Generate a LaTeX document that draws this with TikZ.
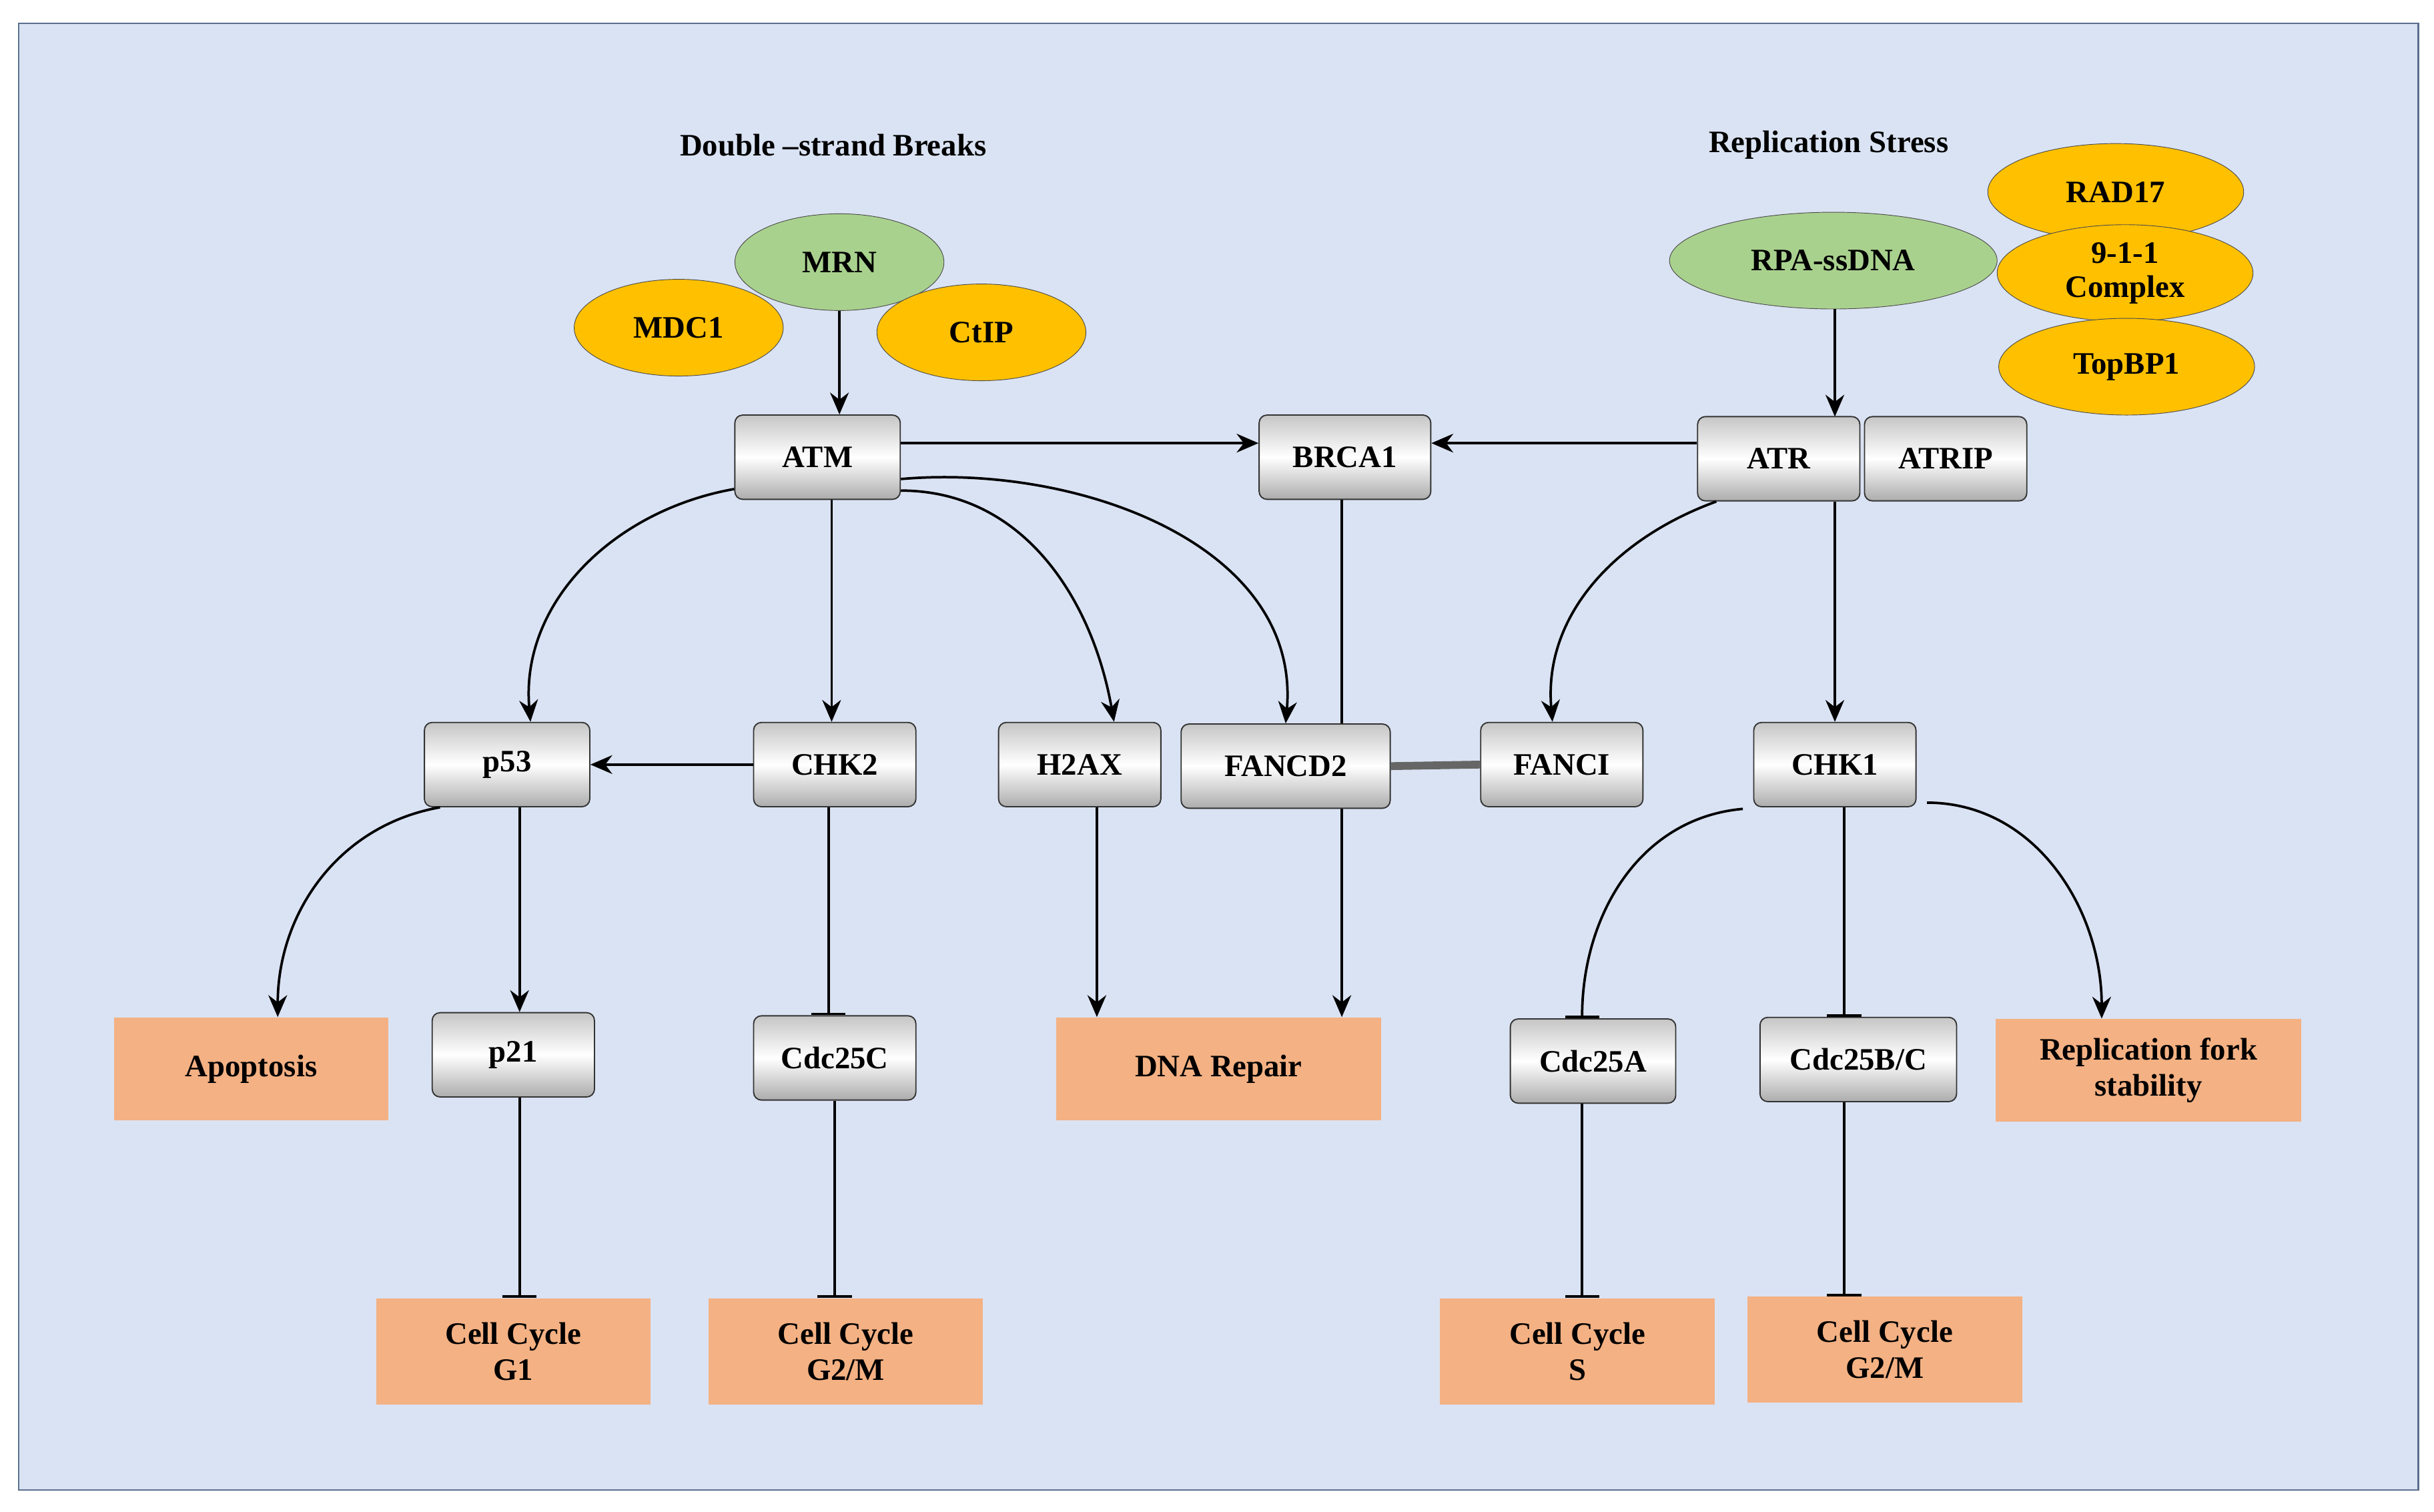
\documentclass[tikz,border=0pt]{standalone}
\usepackage{fontspec}
\setmainfont{Liberation Serif}
\usetikzlibrary{arrows.meta,shapes.geometric}
\definecolor{bg}{HTML}{DAE3F3}
\definecolor{frame}{HTML}{5B6F8F}
\definecolor{grn}{HTML}{A9D18E}
\definecolor{yel}{HTML}{FFC000}
\definecolor{org}{HTML}{F4B183}
\begin{document}
\begin{tikzpicture}[x=1pt,y=-1pt,
  font=\fontsize{20}{23}\selectfont\bfseries,
  box/.style={draw=black!80,line width=0.8pt,rounded corners=5pt,top color=gray!45,bottom color=gray!65,middle color=white,minimum height=54pt,inner sep=2pt},
  res/.style={fill=org,minimum height=66pt,minimum width=176pt,align=center,inner sep=2pt},
  grnE/.style={ellipse,draw=black!70,fill=grn,minimum width=134pt,minimum height=62pt,inner sep=0pt},
  yelE/.style={ellipse,draw=black!70,fill=yel,minimum width=134pt,minimum height=62pt,inner sep=0pt,align=center,font=\fontsize{20}{22}\selectfont\bfseries},
  act/.style={-{Stealth[length=14pt,width=12pt]},line width=1.6pt},
  inh/.style={-{Bar[width=22pt]},line width=1.6pt}]
\useasboundingbox (0,0) rectangle (1560,969);
\draw[frame,fill=bg,line width=1pt] (12,15) rectangle (1550,955);
\node (t1) at (534,93) {Double –strand Breaks};
\node (t2) at (1172,93) {Replication Stress};
% ellipses
\node[grnE] (mrn) at (538,168) {MRN};
\node[yelE] (mdc) at (435,210) {MDC1};
\node[yelE] (ctip) at (629,213) {CtIP};
\node[yelE,minimum width=164pt] (rad) at (1356,123) {RAD17};
\node[yelE,minimum width=164pt] (c911) at (1362,175) {9-1-1\\Complex};
\node[yelE,minimum width=164pt] (top) at (1363,235) {TopBP1};
\node[grnE,minimum width=210pt] (rpa) at (1175,167) {RPA-ssDNA};
% boxes
\node[box,minimum width=106pt] (atm) at (524,293) {ATM};
\node[box,minimum width=110pt] (brca) at (862,293) {BRCA1};
\node[box,minimum width=104pt] (atr) at (1140,294) {ATR};
\node[box,minimum width=104pt] (atrip) at (1247,294) {ATRIP};
\node[box,minimum width=106pt] (p53) at (325,490) {p53};
\node[box,minimum width=104pt] (chk2) at (535,490) {CHK2};
\node[box,minimum width=104pt] (h2ax) at (692,490) {H2AX};
\node[box,minimum width=104pt] (fi) at (1001,490) {FANCI};
\node[box,minimum width=104pt] (chk1) at (1176,490) {CHK1};
\node[box,minimum width=104pt] (p21) at (329,676) {p21};
\node[box,minimum width=104pt] (c25c) at (535,678) {Cdc25C};
\node[box,minimum width=106pt] (c25a) at (1021,680) {Cdc25A};
\node[box,minimum width=126pt] (c25b) at (1191,679) {Cdc25B/C};
% outcomes
\node[res] (apo) at (161,685) {Apoptosis};
\node[res,minimum width=208pt] (rep) at (781,685) {DNA Repair};
\node[res,minimum width=196pt] (fork) at (1377,686) {Replication fork\\stability};
\node[res,minimum height=68pt] (g1) at (329,866) {Cell Cycle\\G1};
\node[res,minimum height=68pt] (g2a) at (542,866) {Cell Cycle\\G2/M};
\node[res,minimum height=68pt] (s) at (1011,866) {Cell Cycle\\S};
\node[res,minimum height=68pt] (g2b) at (1208,865) {Cell Cycle\\G2/M};
% BRCA1 line behind FANCD2
\draw[act] (brca.south -| 860,0) -- (rep.north -| 860,0);
\node[box,minimum width=134pt] (fd2) at (824,491) {FANCD2};
\draw[line width=5pt,gray!80!black] (fd2.east) -- (fi.west);
% connectors
\draw[act] (mrn.south) -- (atm.north -| mrn.south);
\coordinate (atrin) at (1176,267);
\draw[act] (rpa.south -| atrin) -- (atrin);
\draw[act] (atm.east |- 0,284) -- (brca.west |- 0,284);
\draw[act] (atr.west |- 0,284) -- (brca.east |- 0,284);
\draw[act] ([yshift=7pt]atm.south west) to[out=190,in=95] (p53.north -| 340,0);
\draw[act] (atm.south -| 533,0) -- (chk2.north -| 533,0);
\draw[act] ([yshift=6pt]atm.south east) to[out=0,in=100] (h2ax.north -| 714,0);
\draw[act] ([yshift=-14pt]atm.east) to[out=5,in=85] (fd2.north);
\draw[act] ([xshift=-40pt]atr.south) to[out=200,in=95] (fi.north -| 995,0);
\draw[act] (atr.south -| 1176,0) -- (chk1.north -| 1176,0);
\draw[act] (chk2.west) -- (p53.east);
\draw[act] ([xshift=-43pt]p53.south) to[out=190,in=90] (apo.north -| 178,0);
\draw[act] (p53.south -| 333,0) -- (p21.north -| 333,0);
\draw[inh] (chk2.south -| 531,0) -- (c25c.north -| 531,0);
\draw[act] (h2ax.south -| 703,0) -- (rep.north -| 703,0);
\draw[inh] ([xshift=-59pt,yshift=-1pt]chk1.south) to[out=185,in=90] (c25a.north -| 1014,0);
\draw[inh] (chk1.south -| 1182,0) -- (c25b.north -| 1182,0);
\draw[act] ([xshift=59pt,yshift=3pt]chk1.south) to[out=0,in=90] (fork.north -| 1347,0);
\draw[inh] (p21.south -| 333,0) -- (g1.north -| 333,0);
\draw[inh] (c25c.south) -- (g2a.north -| c25c.south);
\draw[inh] (c25a.south -| 1014,0) -- (s.north -| 1014,0);
\draw[inh] (c25b.south -| 1182,0) -- (g2b.north -| 1182,0);
\end{tikzpicture}
\end{document}
